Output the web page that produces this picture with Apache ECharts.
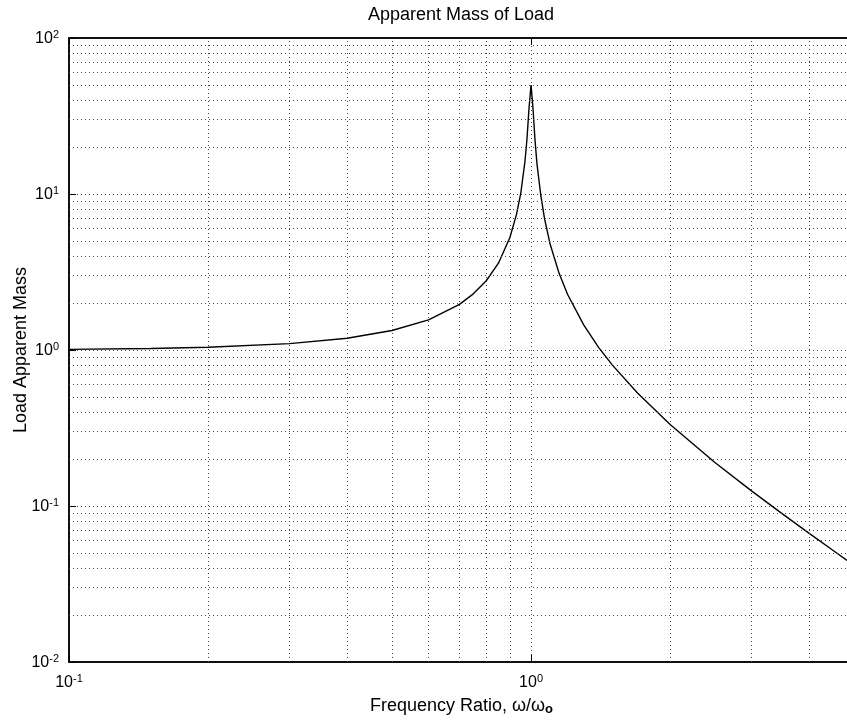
<!DOCTYPE html>
<html>
<head>
<meta charset="utf-8">
<script src="https://cdn.jsdelivr.net/npm/echarts@6/dist/echarts.min.js"></script>
<style>
  html, body { margin: 0; padding: 0; background: #fff; }
  #chart { width: 847px; height: 721px; }
</style>
</head>
<body>
<div id="chart"></div>
<script>
// frequency ratio w/w0
const ratio = [0.1, 0.15, 0.2, 0.3, 0.4, 0.5, 0.6, 0.7, 0.75, 0.8, 0.85, 0.9, 0.93, 0.95, 0.97, 0.98, 0.99,
    1.0, 1.01, 1.02, 1.03, 1.05, 1.07, 1.1, 1.15, 1.2, 1.3, 1.4, 1.5, 1.7, 2, 2.5, 3, 3.5, 4, 4.5, 5];
// load apparent mass
const mass = [1.01, 1.023, 1.042, 1.099, 1.19, 1.333, 1.56, 1.96, 2.29, 2.78, 3.6, 5.26, 7.4, 10.1, 16.1, 22.6, 35.6,
    50, 35.1, 22.1, 15.6, 9.75, 6.9, 4.76, 3.1, 2.27, 1.45, 1.04, 0.8, 0.53, 0.333, 0.19, 0.125, 0.089, 0.0667, 0.052, 0.0417];

const xDecades = [0.1, 1];
const yDecades = [0.01, 0.1, 1, 10];
const minorSteps = [2, 3, 4, 5, 6, 7, 8, 9];

const X_MIN = 0.1, X_MAX = 5;
const Y_MIN = 0.01, Y_MAX = 100;

const xMinor = [];
xDecades.forEach(d => minorSteps.forEach(s => { if (d * s < X_MAX) xMinor.push(d * s); }));
const yMinor = [];
yDecades.forEach(d => minorSteps.forEach(s => yMinor.push(d * s)));

const gridDots = { color: '#444', width: 1, type: [1, 3] };

function powLabel(v) {
    const e = Math.log10(v);
    if (Math.abs(e - Math.round(e)) > 1e-6) return '';
    return '{b|10}{sup|' + Math.round(e) + '}';
}

const labelRich = {
    b: { fontSize: 16, fontFamily: 'Liberation Sans', color: '#000', verticalAlign: 'bottom' },
    sup: { fontSize: 11, fontFamily: 'Liberation Sans', color: '#000', verticalAlign: 'top', padding: [0, 0, 7, 0] }
};

const chart = echarts.init(document.getElementById('chart'));

const option = {
    backgroundColor: '#fff',
    animation: false,
    title: {
        text: 'Apparent Mass of Load',
        left: 461,
        top: 6,
        padding: 0,
        textAlign: 'center',
        textStyle: { fontFamily: 'Liberation Sans', fontSize: 18, fontWeight: 'normal', color: '#000' }
    },
    grid: {
        left: 69,
        top: 38,
        bottom: 59,
        right: -7,
        outerBoundsMode: 'none',
        containLabel: false,
        show: true,
        borderColor: '#000',
        borderWidth: 1.5,
        backgroundColor: '#fff'
    },
    xAxis: [{
        type: 'log',
        logBase: 10,
        min: X_MIN,
        max: X_MAX,
        name: '{m|Frequency Ratio, ω/ω}{sub|o}',
        nameLocation: 'middle',
        nameGap: 35,
        nameMoveOverlap: false,
        nameTextStyle: {
            rich: {
                m: { fontFamily: 'Liberation Sans', fontSize: 18, color: '#000', verticalAlign: 'top' },
                sub: { fontFamily: 'Liberation Sans', fontSize: 13, fontWeight: 'bold', color: '#000', verticalAlign: 'bottom', padding: [6, 0, 0, 0] }
            }
        },
        axisLine: { lineStyle: { color: '#000', width: 1.5 } },
        axisTick: { inside: true, length: 7, lineStyle: { color: '#000' } },
        axisLabel: { formatter: powLabel, rich: labelRich, margin: 11, showMaxLabel: false },
        splitLine: { show: true, lineStyle: gridDots }
    }, {
        type: 'log',
        logBase: 10,
        min: X_MIN,
        max: X_MAX,
        position: 'top',
        axisLine: { lineStyle: { color: '#000', width: 1.5 } },
        axisTick: { inside: true, length: 7, lineStyle: { color: '#000' } },
        axisLabel: { show: false },
        splitLine: { show: false }
    }],
    yAxis: {
        type: 'log',
        logBase: 10,
        min: Y_MIN,
        max: Y_MAX,
        name: 'Load Apparent Mass',
        nameLocation: 'middle',
        nameGap: 39,
        nameMoveOverlap: false,
        nameTextStyle: { fontFamily: 'Liberation Sans', fontSize: 18, color: '#000' },
        axisLine: { lineStyle: { color: '#000', width: 1.5 } },
        axisTick: { inside: true, length: 7, lineStyle: { color: '#000' } },
        axisLabel: { formatter: powLabel, rich: labelRich, margin: 10 },
        splitLine: { show: true, lineStyle: gridDots }
    },
    series: [{
        type: 'line',
        data: [],
        z: 1,
        silent: true,
        markLine: {
            silent: true,
            symbol: 'none',
            label: { show: false },
            lineStyle: gridDots,
            animation: false,
            data: xMinor.map(v => ({ xAxis: v })).concat(yMinor.map(v => ({ yAxis: v })))
        }
    }, {
        type: 'line',
        z: 3,
        data: ratio.map((r, i) => [r, mass[i]]),
        showSymbol: false,
        lineStyle: { color: '#000', width: 1.4 }
    }]
};

chart.setOption(option);
</script>
</body>
</html>
